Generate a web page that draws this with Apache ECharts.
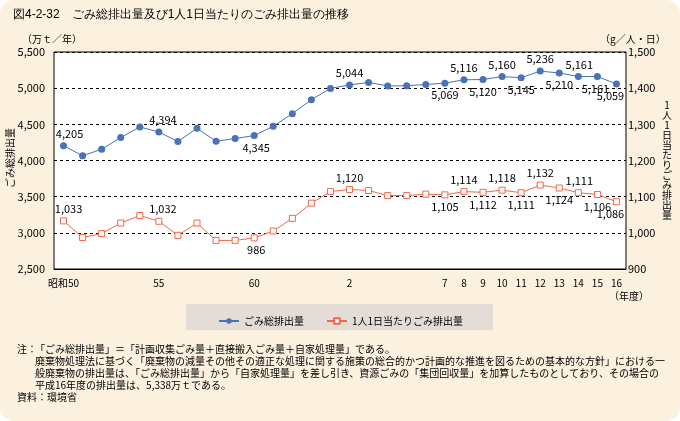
<!DOCTYPE html>
<html><head><meta charset="utf-8">
<script src="https://cdn.jsdelivr.net/npm/echarts@6/dist/echarts.min.js"></script>
<style>
html,body{margin:0;padding:0;background:#fff;}
#c{width:680px;height:421px;background:#FCF1DF;border-radius:14px;overflow:hidden;}
</style></head><body><div id="c"></div>
<script>
const categories = ['昭和50','昭和51','昭和52','昭和53','昭和54','昭和55','昭和56','昭和57','昭和58','昭和59','昭和60','昭和61','昭和62','昭和63','平成元','平成2','平成3','平成4','平成5','平成6','平成7','平成8','平成9','平成10','平成11','平成12','平成13','平成14','平成15','平成16'];
const tickLabels = ['昭和50','','','','','55','','','','','60','','','','','2','','','','','7','8','9','10','11','12','13','14','15','16'];
const totalEmission = [4205,4065,4156,4317,4464,4394,4262,4445,4266,4303,4345,4473,4648,4841,4997,5044,5080,5030,5034,5051,5069,5116,5120,5160,5145,5236,5210,5161,5161,5059];
const perCapita = [1033,987,998,1027,1048,1032,993,1027,979,979,986,1005,1040,1082,1114,1120,1117,1103,1103,1107,1105,1114,1112,1118,1111,1132,1124,1111,1106,1086];
const leftTicks = {min:2500, max:5500, interval:500};
const rightTicks = {min:900, max:1500, interval:100};
// [index, position, x-shift]
const totalLabels = [[0,'top',6],[5,'top',4],[10,'bottom',2],[15,'top',0],[20,'bottom',0],[21,'top',0],[22,'bottom',0],[23,'top',0],[24,'bottom',0],[25,'top',0],[26,'bottom',0],[27,'top',1],[28,'bottom',-2],[29,'bottom',-6]];
const perCapitaLabels = [[0,'top',5],[5,'top',4],[10,'bottom',2],[15,'top',0],[20,'bottom',0],[21,'top',0],[22,'bottom',0],[23,'top',0],[24,'bottom',0],[25,'top',0],[26,'bottom',0],[27,'top',1],[28,'bottom',0],[29,'bottom',-6]];

const FONT = '"Noto Sans CJK JP", sans-serif';
const fmt = v => Number(v).toLocaleString('en-US');
function build(vals, labels){
  return vals.map((v,i)=>{
    const l = labels.find(x=>x[0]===i);
    return l ? {value:v, label:{show:true, position:l[1], offset:[l[2],0]}} : {value:v};
  });
}
const chart = echarts.init(document.getElementById('c'));
const blue = '#4A72B8', orange = '#F0694A';
chart.setOption({
  animation:false,
  textStyle:{fontFamily:FONT},
  grid:{left:54, right:54, top:52, bottom:152, show:true, backgroundColor:'#fff', borderColor:'#000', borderWidth:1},
  legend:{left:213, top:311, itemWidth:20, itemHeight:7, itemGap:22,
    textStyle:{fontSize:10, color:'#000', fontFamily:FONT},
    data:['ごみ総排出量','1人1日当たりごみ排出量']},
  xAxis:{type:'category', data:categories, boundaryGap:true,
    axisLine:{lineStyle:{color:'#000', width:1}},
    axisTick:{inside:true, length:5, alignWithLabel:true, interval:0, lineStyle:{color:'#000'}},
    axisLabel:{interval:0, margin:9, fontSize:10, color:'#000', fontFamily:FONT, formatter:(v,i)=>tickLabels[i]}},
  yAxis:[
    {type:'value', min:leftTicks.min, max:leftTicks.max, interval:leftTicks.interval, position:'left',
     axisLine:{show:false}, axisTick:{show:false},
     axisLabel:{margin:9, fontSize:11, color:'#000', fontFamily:FONT, formatter:fmt, padding:[6,0,0,0]},
     splitLine:{show:true, lineStyle:{color:'#000', type:[3,3], width:1}}},
    {type:'value', min:rightTicks.min, max:rightTicks.max, interval:rightTicks.interval, position:'right',
     axisLine:{show:false}, axisTick:{show:false},
     axisLabel:{margin:2, fontSize:11, color:'#000', fontFamily:FONT, formatter:fmt, padding:[6,0,0,0]},
     splitLine:{show:false}}
  ],
  series:[
    {name:'ごみ総排出量', type:'line', yAxisIndex:0, data:build(totalEmission,totalLabels),
     symbol:'circle', symbolSize:7, lineStyle:{color:blue, width:1}, itemStyle:{color:blue},
     label:{show:false, fontSize:11, color:'#000', distance:3, fontFamily:FONT, formatter:p=>fmt(p.value)}},
    {name:'1人1日当たりごみ排出量', type:'line', yAxisIndex:1, data:build(perCapita,perCapitaLabels),
     symbol:'rect', symbolSize:6, lineStyle:{color:orange, width:1}, itemStyle:{color:'#fff', borderColor:orange, borderWidth:1},
     label:{show:false, fontSize:11, color:'#000', distance:3, fontFamily:FONT, formatter:p=>fmt(p.value)}}
  ],
  graphic:[
    {type:'rect', z:-1, shape:{x:186, y:304, width:307, height:26}, style:{fill:'#E4DDD7'}},
    {type:'text', left:13, top:9, style:{text:'図4-2-32　ごみ総排出量及び1人1日当たりのごみ排出量の推移', fontSize:12, fill:'#000', font:'12px '+FONT}},
    {type:'text', left:22, top:34, style:{text:'（万ｔ／年）', fill:'#000', font:'10px '+FONT}},
    {type:'text', left:600, top:34, style:{text:'（g／人・日）', fill:'#000', font:'10px '+FONT}},
    {type:'text', x:10, y:158, rotation:Math.PI/2, style:{text:'ごみ総排出量', fill:'#000', font:'10px '+FONT, align:'center', verticalAlign:'middle'}},
    {type:'text', x:667, y:100, style:{text:'1\n人\n1\n日\n当\nた\nり\nご\nみ\n排\n出\n量', fill:'#000', font:'10px '+FONT, align:'center', lineHeight:10}},
    {type:'text', left:609, top:291, style:{text:'（年度）', fill:'#000', font:'10px '+FONT}},
    {type:'text', left:17, top:344, style:{text:'注：', fill:'#000', font:'10px '+FONT}},
    {type:'text', left:35, top:344, style:{text:'「ごみ総排出量」＝「計画収集ごみ量＋直接搬入ごみ量＋自家処理量」である。', fill:'#000', font:'10px '+FONT}},
    {type:'text', left:35, top:356, style:{text:'廃棄物処理法に基づく「廃棄物の減量その他その適正な処理に関する施策の総合的かつ計画的な推進を図るための基本的な方針」における一', fill:'#000', font:'10px '+FONT}},
    {type:'text', left:35, top:368, style:{text:'般廃棄物の排出量は、「ごみ総排出量」から「自家処理量」を差し引き、資源ごみの「集団回収量」を加算したものとしており、その場合の', fill:'#000', font:'10px '+FONT}},
    {type:'text', left:35, top:380, style:{text:'平成16年度の排出量は、5,338万ｔである。', fill:'#000', font:'10px '+FONT}},
    {type:'text', left:17, top:392, style:{text:'資料：環境省', fill:'#000', font:'10px '+FONT}}
  ]
});
</script></body></html>
